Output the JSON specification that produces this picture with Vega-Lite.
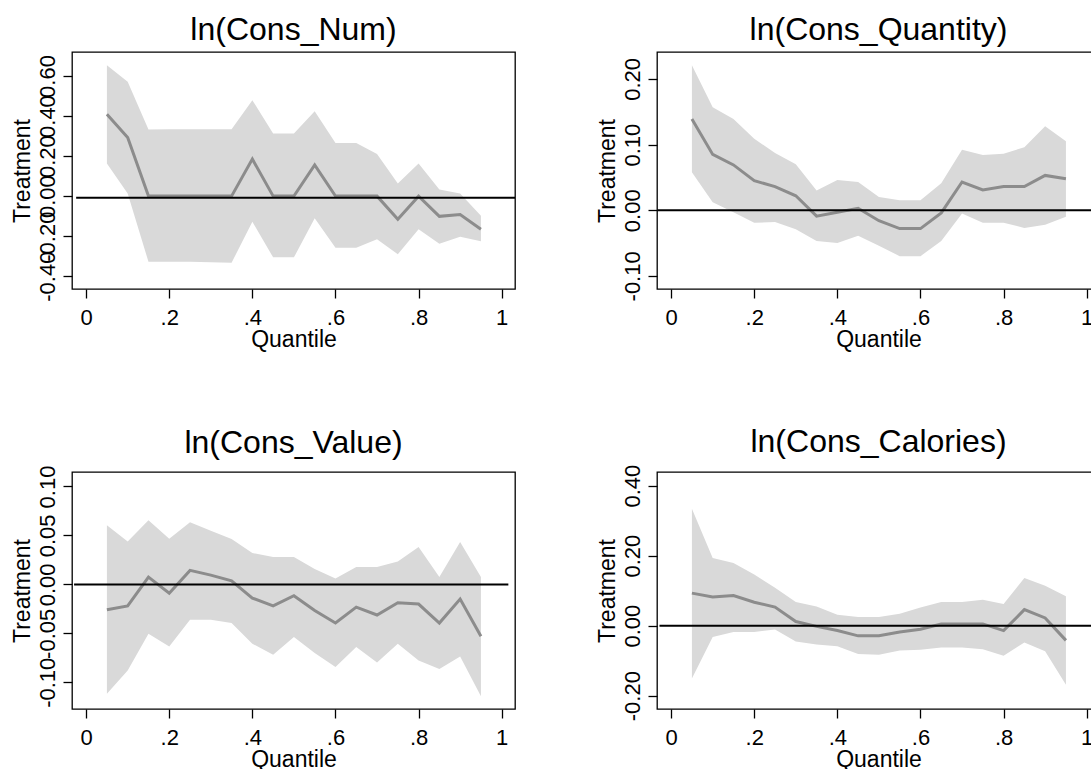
{
  "$schema": "https://vega.github.io/schema/vega-lite/v6.json",
  "background": "white",
  "padding": {"left": 10, "top": 13, "right": 0, "bottom": 0},
  "columns": 2,
  "spacing": {"row": 183, "column": 142},
  "bounds": "flush",
  "config": {
    "font": "Liberation Sans",
    "view": {"stroke": "black", "strokeWidth": 1.3},
    "axis": {"domain": false, "grid": false, "ticks": true, "tickColor": "black", "tickSize": 9, "tickWidth": 1.3, "labelColor": "black", "labelFontSize": 22, "titleFontSize": 23, "titleFontWeight": "normal", "titleColor": "black", "labelOverlap": false, "labelBound": false, "labelFlush": false},
    "axisY": {"labelAngle": 270, "labelAlign": "center", "labelBaseline": "bottom", "labelPadding": 4, "titlePadding": 2},
    "axisX": {"labelPadding": 9, "titlePadding": 0},
    "title": {"fontSize": 32, "fontWeight": "normal", "color": "black", "offset": 5, "anchor": "middle"}
  },
  "datasets": {
    "p1": [
      {"q": 0.05, "b": 0.409, "lo": 0.163, "hi": 0.654},
      {"q": 0.10, "b": 0.293, "lo": 0.013, "hi": 0.571},
      {"q": 0.15, "b": 0.0, "lo": -0.328, "hi": 0.333},
      {"q": 0.20, "b": 0.0, "lo": -0.328, "hi": 0.334},
      {"q": 0.25, "b": 0.0, "lo": -0.328, "hi": 0.334},
      {"q": 0.30, "b": 0.0, "lo": -0.330, "hi": 0.334},
      {"q": 0.35, "b": 0.0, "lo": -0.333, "hi": 0.334},
      {"q": 0.40, "b": 0.185, "lo": -0.128, "hi": 0.479},
      {"q": 0.45, "b": 0.0, "lo": -0.306, "hi": 0.313},
      {"q": 0.50, "b": 0.0, "lo": -0.306, "hi": 0.313},
      {"q": 0.55, "b": 0.156, "lo": -0.111, "hi": 0.424},
      {"q": 0.60, "b": 0.0, "lo": -0.258, "hi": 0.266},
      {"q": 0.65, "b": 0.0, "lo": -0.258, "hi": 0.266},
      {"q": 0.70, "b": 0.0, "lo": -0.215, "hi": 0.210},
      {"q": 0.75, "b": -0.115, "lo": -0.290, "hi": 0.063},
      {"q": 0.80, "b": 0.0, "lo": -0.165, "hi": 0.163},
      {"q": 0.85, "b": -0.101, "lo": -0.238, "hi": 0.033},
      {"q": 0.90, "b": -0.092, "lo": -0.203, "hi": 0.013},
      {"q": 0.95, "b": -0.165, "lo": -0.225, "hi": -0.098}
    ],
    "p2": [
      {"q": 0.05, "b": 0.139, "lo": 0.058, "hi": 0.221},
      {"q": 0.10, "b": 0.085, "lo": 0.012, "hi": 0.157},
      {"q": 0.15, "b": 0.069, "lo": -0.003, "hi": 0.139},
      {"q": 0.20, "b": 0.045, "lo": -0.019, "hi": 0.109},
      {"q": 0.25, "b": 0.036, "lo": -0.018, "hi": 0.087},
      {"q": 0.30, "b": 0.022, "lo": -0.029, "hi": 0.070},
      {"q": 0.35, "b": -0.009, "lo": -0.047, "hi": 0.030},
      {"q": 0.40, "b": -0.003, "lo": -0.050, "hi": 0.046},
      {"q": 0.45, "b": 0.003, "lo": -0.039, "hi": 0.043},
      {"q": 0.50, "b": -0.016, "lo": -0.054, "hi": 0.020},
      {"q": 0.55, "b": -0.028, "lo": -0.070, "hi": 0.015},
      {"q": 0.60, "b": -0.028, "lo": -0.070, "hi": 0.015},
      {"q": 0.65, "b": -0.004, "lo": -0.047, "hi": 0.041},
      {"q": 0.70, "b": 0.043, "lo": -0.005, "hi": 0.092},
      {"q": 0.75, "b": 0.031, "lo": -0.019, "hi": 0.084},
      {"q": 0.80, "b": 0.036, "lo": -0.019, "hi": 0.086},
      {"q": 0.85, "b": 0.036, "lo": -0.027, "hi": 0.096},
      {"q": 0.90, "b": 0.053, "lo": -0.022, "hi": 0.128},
      {"q": 0.95, "b": 0.048, "lo": -0.010, "hi": 0.105}
    ],
    "p3": [
      {"q": 0.05, "b": -0.026, "lo": -0.1117, "hi": 0.0603},
      {"q": 0.10, "b": -0.022, "lo": -0.0879, "hi": 0.0439},
      {"q": 0.15, "b": 0.0075, "lo": -0.0504, "hi": 0.0654},
      {"q": 0.20, "b": -0.009, "lo": -0.0634, "hi": 0.0467},
      {"q": 0.25, "b": 0.0143, "lo": -0.0361, "hi": 0.0634},
      {"q": 0.30, "b": 0.0095, "lo": -0.0361, "hi": 0.0548},
      {"q": 0.35, "b": 0.0037, "lo": -0.0395, "hi": 0.0463},
      {"q": 0.40, "b": -0.014, "lo": -0.0606, "hi": 0.032},
      {"q": 0.45, "b": -0.022, "lo": -0.0719, "hi": 0.0279},
      {"q": 0.50, "b": -0.0116, "lo": -0.0538, "hi": 0.0279},
      {"q": 0.55, "b": -0.0266, "lo": -0.0702, "hi": 0.0157},
      {"q": 0.60, "b": -0.0395, "lo": -0.0845, "hi": 0.0061},
      {"q": 0.65, "b": -0.0232, "lo": -0.064, "hi": 0.0177},
      {"q": 0.70, "b": -0.0313, "lo": -0.0797, "hi": 0.0177},
      {"q": 0.75, "b": -0.0187, "lo": -0.0606, "hi": 0.0235},
      {"q": 0.80, "b": -0.0201, "lo": -0.0777, "hi": 0.0381},
      {"q": 0.85, "b": -0.0395, "lo": -0.0865, "hi": 0.0075},
      {"q": 0.90, "b": -0.015, "lo": -0.0736, "hi": 0.0433},
      {"q": 0.95, "b": -0.053, "lo": -0.1144, "hi": 0.0075}
    ],
    "p4": [
      {"q": 0.05, "b": 0.093, "lo": -0.151, "hi": 0.334},
      {"q": 0.10, "b": 0.082, "lo": -0.032, "hi": 0.193},
      {"q": 0.15, "b": 0.086, "lo": -0.018, "hi": 0.179},
      {"q": 0.20, "b": 0.067, "lo": -0.018, "hi": 0.146},
      {"q": 0.25, "b": 0.053, "lo": -0.011, "hi": 0.108},
      {"q": 0.30, "b": 0.012, "lo": -0.045, "hi": 0.068},
      {"q": 0.35, "b": -0.002, "lo": -0.054, "hi": 0.055},
      {"q": 0.40, "b": -0.014, "lo": -0.059, "hi": 0.031},
      {"q": 0.45, "b": -0.029, "lo": -0.081, "hi": 0.025},
      {"q": 0.50, "b": -0.029, "lo": -0.083, "hi": 0.025},
      {"q": 0.55, "b": -0.018, "lo": -0.071, "hi": 0.034},
      {"q": 0.60, "b": -0.010, "lo": -0.069, "hi": 0.052},
      {"q": 0.65, "b": 0.005, "lo": -0.062, "hi": 0.068},
      {"q": 0.70, "b": 0.005, "lo": -0.062, "hi": 0.068},
      {"q": 0.75, "b": 0.005, "lo": -0.067, "hi": 0.074},
      {"q": 0.80, "b": -0.014, "lo": -0.086, "hi": 0.062},
      {"q": 0.85, "b": 0.046, "lo": -0.048, "hi": 0.136},
      {"q": 0.90, "b": 0.022, "lo": -0.073, "hi": 0.114},
      {"q": 0.95, "b": -0.042, "lo": -0.169, "hi": 0.084}
    ]
  },
  "concat": [
    {
      "title": "ln(Cons_Num)",
      "width": 443, "height": 237,
      "data": {"name": "p1"},
      "layer": [
        {"mark": {"type": "area", "color": "#d9d9d9", "opacity": 1},
         "encoding": {
           "x": {"field": "q", "type": "quantitative", "title": "Quantile", "scale": {"domain": [-0.034, 1.032], "nice": false, "zero": false}, "axis": {"values": [0, 0.2, 0.4, 0.6, 0.8, 1], "labelExpr": "datum.value == 0 ? '0' : datum.value == 1 ? '1' : '.' + format(datum.value * 10, 'd')"}},
           "y": {"field": "lo", "type": "quantitative", "title": "Treatment", "scale": {"domain": [-0.464, 0.72], "nice": false, "zero": false}, "axis": {"values": [-0.4, -0.2, 0, 0.2, 0.4, 0.6], "labelExpr": "(datum.value < 0 ? '-' : '') + format(abs(datum.value), '.2f')"}},
           "y2": {"field": "hi"}
         }},
        {"mark": {"type": "line", "color": "#8c8c8c", "strokeWidth": 3},
         "encoding": {
           "x": {"field": "q", "type": "quantitative", "title": "Quantile"},
           "y": {"field": "b", "type": "quantitative", "title": "Treatment"}
         }},
        {"data": {"values": [{"x0": -0.024, "x1": 1.032, "y": -0.008}]},
         "mark": {"type": "rule", "color": "black", "strokeWidth": 2},
         "encoding": {
           "x": {"field": "x0", "type": "quantitative", "title": "Quantile"},
           "x2": {"field": "x1"},
           "y": {"field": "y", "type": "quantitative", "title": "Treatment"}
         }}
      ]
    },
    {
      "title": "ln(Cons_Quantity)",
      "width": 443, "height": 237,
      "data": {"name": "p2"},
      "layer": [
        {"mark": {"type": "area", "color": "#d9d9d9", "opacity": 1},
         "encoding": {
           "x": {"field": "q", "type": "quantitative", "title": "Quantile", "scale": {"domain": [-0.034, 1.032], "nice": false, "zero": false}, "axis": {"values": [0, 0.2, 0.4, 0.6, 0.8, 1], "labelExpr": "datum.value == 0 ? '0' : datum.value == 1 ? '1' : '.' + format(datum.value * 10, 'd')"}},
           "y": {"field": "lo", "type": "quantitative", "title": "Treatment", "scale": {"domain": [-0.12, 0.241], "nice": false, "zero": false}, "axis": {"values": [-0.1, 0, 0.1, 0.2], "labelExpr": "(datum.value < 0 ? '-' : '') + format(abs(datum.value), '.2f')"}},
           "y2": {"field": "hi"}
         }},
        {"mark": {"type": "line", "color": "#8c8c8c", "strokeWidth": 3},
         "encoding": {
           "x": {"field": "q", "type": "quantitative", "title": "Quantile"},
           "y": {"field": "b", "type": "quantitative", "title": "Treatment"}
         }},
        {"data": {"values": [{"x0": -0.033, "x1": 1.032, "y": 0.0}]},
         "mark": {"type": "rule", "color": "black", "strokeWidth": 2},
         "encoding": {
           "x": {"field": "x0", "type": "quantitative", "title": "Quantile"},
           "x2": {"field": "x1"},
           "y": {"field": "y", "type": "quantitative", "title": "Treatment"}
         }}
      ]
    },
    {
      "title": "ln(Cons_Value)",
      "width": 443, "height": 237,
      "data": {"name": "p3"},
      "layer": [
        {"mark": {"type": "area", "color": "#d9d9d9", "opacity": 1},
         "encoding": {
           "x": {"field": "q", "type": "quantitative", "title": "Quantile", "scale": {"domain": [-0.034, 1.032], "nice": false, "zero": false}, "axis": {"values": [0, 0.2, 0.4, 0.6, 0.8, 1], "labelExpr": "datum.value == 0 ? '0' : datum.value == 1 ? '1' : '.' + format(datum.value * 10, 'd')"}},
           "y": {"field": "lo", "type": "quantitative", "title": "Treatment", "scale": {"domain": [-0.1273, 0.1148], "nice": false, "zero": false}, "axis": {"values": [-0.1, -0.05, 0, 0.05, 0.1], "labelExpr": "(datum.value < 0 ? '-' : '') + format(abs(datum.value), '.2f')"}},
           "y2": {"field": "hi"}
         }},
        {"mark": {"type": "line", "color": "#8c8c8c", "strokeWidth": 3},
         "encoding": {
           "x": {"field": "q", "type": "quantitative", "title": "Quantile"},
           "y": {"field": "b", "type": "quantitative", "title": "Treatment"}
         }},
        {"data": {"values": [{"x0": -0.029, "x1": 1.016, "y": 0.0}]},
         "mark": {"type": "rule", "color": "black", "strokeWidth": 2},
         "encoding": {
           "x": {"field": "x0", "type": "quantitative", "title": "Quantile"},
           "x2": {"field": "x1"},
           "y": {"field": "y", "type": "quantitative", "title": "Treatment"}
         }}
      ]
    },
    {
      "title": "ln(Cons_Calories)",
      "width": 443, "height": 237,
      "data": {"name": "p4"},
      "layer": [
        {"mark": {"type": "area", "color": "#d9d9d9", "opacity": 1},
         "encoding": {
           "x": {"field": "q", "type": "quantitative", "title": "Quantile", "scale": {"domain": [-0.034, 1.032], "nice": false, "zero": false}, "axis": {"values": [0, 0.2, 0.4, 0.6, 0.8, 1], "labelExpr": "datum.value == 0 ? '0' : datum.value == 1 ? '1' : '.' + format(datum.value * 10, 'd')"}},
           "y": {"field": "lo", "type": "quantitative", "title": "Treatment", "scale": {"domain": [-0.238, 0.439], "nice": false, "zero": false}, "axis": {"values": [-0.2, 0, 0.2, 0.4], "labelExpr": "(datum.value < 0 ? '-' : '') + format(abs(datum.value), '.2f')"}},
           "y2": {"field": "hi"}
         }},
        {"mark": {"type": "line", "color": "#8c8c8c", "strokeWidth": 3},
         "encoding": {
           "x": {"field": "q", "type": "quantitative", "title": "Quantile"},
           "y": {"field": "b", "type": "quantitative", "title": "Treatment"}
         }},
        {"data": {"values": [{"x0": -0.028, "x1": 1.032, "y": 0.0}]},
         "mark": {"type": "rule", "color": "black", "strokeWidth": 2},
         "encoding": {
           "x": {"field": "x0", "type": "quantitative", "title": "Quantile"},
           "x2": {"field": "x1"},
           "y": {"field": "y", "type": "quantitative", "title": "Treatment"}
         }}
      ]
    }
  ]
}
